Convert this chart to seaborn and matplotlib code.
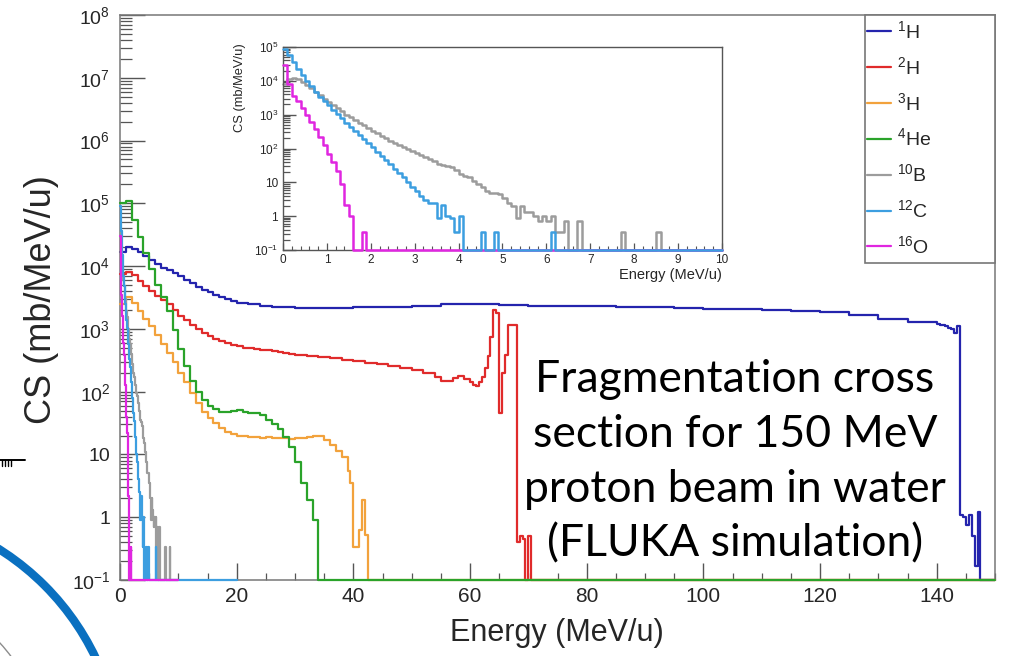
import numpy as np
import matplotlib
matplotlib.use('Agg')
import matplotlib.pyplot as plt
from matplotlib.lines import Line2D
from matplotlib.patches import Circle, Rectangle
from matplotlib.ticker import FixedLocator, FixedFormatter, MultipleLocator, LogLocator, NullFormatter
import seaborn as sns

# values: CS in mb/MeV/u, histogram bins in MeV/u (0 = empty bin)
species = [r'$^{1}$H', r'$^{2}$H', r'$^{3}$H', r'$^{4}$He', r'$^{10}$B', r'$^{12}$C', r'$^{16}$O']
colors = ['#2424ad', '#e02b2b', '#f2a23c', '#2aa32a', '#9c9c9c', '#3c9ee0', '#e026e0']

h1_edges = np.concatenate([np.arange(0, 20, 1.0), np.arange(20, 30, 2.0), np.arange(30, 140, 5.0),
                           np.arange(140, 148, 0.5), [150]])
h1_cs = [1.7e4, 2.0e4, 1.9e4, 1.7e4, 1.45e4, 1.25e4, 1.1e4, 9.5e3, 8.6e3, 7.7e3,
         6.9e3, 6.1e3, 5.4e3, 4.7e3, 4.2e3, 3.8e3, 3.5e3, 3.2e3, 3.0e3, 2.8e3,
         2.6e3, 2.45e3, 2.35e3, 2.25e3, 2.2e3,
         2.15e3, 2.15e3, 2.2e3, 2.25e3, 2.35e3, 2.45e3, 2.45e3, 2.4e3, 2.35e3, 2.3e3, 2.3e3,
         2.25e3, 2.2e3, 2.15e3, 2.1e3, 2.05e3, 2.0e3, 1.95e3, 1.85e3, 1.65e3, 1.45e3, 1.3e3,
         1.2e3, 1.15e3, 1.15e3, 1.1e3, 1.05e3, 1.0e3, 870, 1.1e3, 1.1, 1.0, 0.75, 1.1, 0.5, 0.17, 1.2, 0]

h2_edges = np.concatenate([np.arange(0, 30, 1.0), np.arange(30, 54, 2.0), np.arange(54, 60, 1.0),
                           np.arange(60, 71, 0.5), [150]])
h2_cs = [7.5e3, 8.2e3, 7.2e3, 5.8e3, 4.8e3, 4.0e3, 3.4e3, 2.9e3, 2.5e3, 2.0e3,
         1.6e3, 1.4e3, 1.15e3, 980, 860, 770, 700, 640, 590, 555,
         530, 505, 490, 475, 465, 455, 440, 425, 415, 405,
         390, 375, 360, 345, 325, 310, 290, 275, 260, 240, 225, 200,
         170, 150, 150, 165, 175, 160,
         140, 130, 125, 140, 170, 240, 370, 750, 2.0e3, 1.8e3, 46, 195, 390,
         1.15e3, 1.15e3, 1.15e3, 0.4, 0.5, 0.45, 0, 0.5, 0]

h3_edges = np.concatenate([np.arange(0, 39, 1.0), np.arange(39, 43, 0.5), [150]])
h3_cs = [2.5e3, 3.2e3, 2.6e3, 1.9e3, 1.45e3, 1.1e3, 800, 580, 420, 300,
         200, 140, 95, 65, 48, 38, 32, 26, 23, 21,
         20, 19.5, 19, 19, 18, 19, 18, 18.5, 18, 17.5,
         18, 18.5, 19, 20, 20, 17, 14, 11.5, 9,
         5.5, 3.5, 0.34, 0.34, 0.62, 1.9, 0.52, 0]

he4_edges = np.concatenate([np.arange(0, 35, 1.0), [150]])
he4_cs = [1.0e5, 1.1e5, 5.5e4, 2.9e4, 1.6e4, 9e3, 5e3, 3.2e3, 1.9e3, 950,
          480, 260, 150, 100, 75, 60, 52, 48, 47, 49,
          51, 48, 46, 45, 42, 36, 30, 25, 19, 13,
          7.5, 3.5, 1.9, 0.9, 0]

# heavy fragments, 0.1 MeV/u bins from 0 to 10 (the inset)
fine_edges = np.linspace(0, 10, 101)
b10_cs = [8e3, 1.1e4, 1.2e4, 1.15e4, 9.5e3, 7.5e3, 6e3, 4.8e3, 3.8e3, 3.0e3,
          2.4e3, 1.9e3, 1.55e3, 1.25e3, 1.0e3, 850, 700, 580, 480, 400,
          330, 280, 240, 200, 170, 150, 130, 110, 95, 85,
          75, 65, 57, 50, 42, 36, 33, 31, 28, 23,
          18, 15, 14, 11, 9, 7.5, 5.5, 5, 5, 4.5,
          3.5, 2.5, 2, 0.9, 2, 1.3, 1.3, 1.0, 0.7, 1.0,
          0.7, 1.0, 0.33, 0.33, 0.7, 0, 0, 0.7, 0, 0,
          0, 0, 0, 0, 0, 0, 0, 0.33, 0, 0,
          0, 0, 0, 0, 0, 0.33, 0, 0, 0, 0,
          0, 0, 0, 0, 0, 0, 0, 0, 0, 0]
c12_cs = [9e4, 6e4, 3.6e4, 2.3e4, 1.5e4, 1.0e4, 7e3, 4.8e3, 3.4e3, 2.5e3,
          1.9e3, 1.4e3, 1.05e3, 780, 570, 420, 330, 250, 190, 145,
          110, 80, 60, 45, 34, 25, 19, 14, 10, 7.5,
          5.5, 4, 3, 2.5, 2.5, 0.9, 2.2, 1.0, 0.9, 0.33,
          1.0, 0, 0, 0, 0, 0.33, 0, 0, 0.33, 0,
          0, 0, 0, 0, 0, 0, 0, 0, 0, 0,
          0, 0.33, 0, 0, 0, 0, 0, 0, 0, 0] + [0] * 30
o16_cs = [3e4, 8e3, 3.5e3, 2.5e3, 1.6e3, 1.0e3, 600, 380, 220, 130,
          70, 40, 22, 9, 2.2, 1.0, 0, 0, 0.33, 0] + [0] * 80

yticks = [1e-1, 1, 10, 1e2, 1e3, 1e4, 1e5, 1e6, 1e7, 1e8]
ylabels = [r'$10^{-1}$', '1', '10', r'$10^{2}$', r'$10^{3}$', r'$10^{4}$',
           r'$10^{5}$', r'$10^{6}$', r'$10^{7}$', r'$10^{8}$']

sns.set_style('white')
plt.rcParams['font.family'] = ['Liberation Sans', 'DejaVu Sans']
plt.rcParams['mathtext.fontset'] = 'custom'
plt.rcParams['mathtext.rm'] = 'Liberation Sans'
plt.rcParams['mathtext.it'] = 'Liberation Sans:italic'
plt.rcParams['mathtext.bf'] = 'Liberation Sans:bold'

W, H = 1012, 656
fig = plt.figure(figsize=(W / 100, H / 100), dpi=100, facecolor='white')


def px_axes(x0, y0, x1, y1, **kw):
    return fig.add_axes([x0 / W, 1 - y1 / H, (x1 - x0) / W, (y1 - y0) / H], **kw)


def hist(ax, edges, cs, color, lw, z, floor=0.1):
    y = np.clip(np.asarray(cs, dtype=float), floor, None)
    y = np.append(y, y[-1])
    sns.lineplot(x=edges, y=y, ax=ax, color=color, lw=lw, drawstyle='steps-post',
                 estimator=None, sort=False, legend=False, clip_on=False, zorder=z)


def style_log_axis(ax, ticks, labels, major_len, minor_len, size, pad):
    ax.set_yscale('log')
    ax.yaxis.set_major_locator(FixedLocator(ticks))
    ax.yaxis.set_major_formatter(FixedFormatter(labels))
    ax.yaxis.set_minor_locator(LogLocator(base=10, subs=np.arange(2, 10), numticks=100))
    ax.yaxis.set_minor_formatter(NullFormatter())
    ax.tick_params(axis='y', which='major', direction='in', length=major_len, width=1,
                   color='#555555', labelsize=size, pad=pad, left=True)
    ax.tick_params(axis='y', which='minor', direction='in', length=minor_len, width=0.9,
                   color='#555555', left=True)


# main plot
ax = px_axes(120, 15, 995, 580)
hist(ax, h1_edges, h1_cs, colors[0], 1.6, 2)
hist(ax, h2_edges, h2_cs, colors[1], 1.6, 3)
hist(ax, h3_edges, h3_cs, colors[2], 1.6, 4)
hist(ax, fine_edges, b10_cs, colors[4], 1.6, 5)
hist(ax, np.append(fine_edges, 20.0), c12_cs + [0], colors[5], 1.6, 6)
hist(ax, fine_edges, o16_cs, colors[6], 1.6, 7)
hist(ax, he4_edges, he4_cs, colors[3], 1.6, 8)

ax.set_xlim(0, 150)
ax.set_ylim(1e-1, 1e8)
style_log_axis(ax, yticks, ylabels, 18, 8.5, 14, 7)
ax.xaxis.set_major_locator(FixedLocator(np.arange(0, 141, 20)))
ax.xaxis.set_minor_locator(MultipleLocator(5))
ax.tick_params(axis='x', which='major', direction='in', length=12, width=1, color='#555555',
               labelsize=15, pad=5, bottom=True)
ax.tick_params(axis='x', which='minor', direction='in', length=5, width=0.9, color='#555555',
               bottom=True)
for s in ax.spines.values():
    s.set_color('#777777')
    s.set_linewidth(1.1)
ax.set_xlabel('Energy (MeV/u)', fontsize=22, va='center')
ax.xaxis.set_label_coords((557 - 120) / 875, (580 - 633) / 565)
ax.set_ylabel('CS (mb/MeV/u)', fontsize=26, va='center')
ax.yaxis.set_label_coords((42 - 120) / 875, (580 - 300) / 565)

# inset with the heavy fragments
axi = px_axes(283, 47, 722, 250, zorder=3)
hist(axi, fine_edges, b10_cs, colors[4], 1.8, 2)
hist(axi, fine_edges, o16_cs, colors[6], 1.8, 3)
hist(axi, fine_edges, c12_cs, colors[5], 1.8, 4)
axi.set_xlim(0, 10)
axi.set_ylim(1e-1, 1e5)
style_log_axis(axi, yticks[:7], ylabels[:7], 9, 5, 8.5, 3.5)
axi.xaxis.set_major_locator(MultipleLocator(1))
axi.xaxis.set_minor_locator(MultipleLocator(0.2))
axi.tick_params(axis='x', which='major', direction='in', length=5, width=0.9, color='#555555',
                labelsize=8.5, pad=3, bottom=True)
axi.tick_params(axis='x', which='minor', direction='in', length=3, width=0.8, color='#555555',
                bottom=True)
for s in axi.spines.values():
    s.set_color('#555555')
    s.set_linewidth(1)
axi.set_xlabel('Energy (MeV/u)', fontsize=10.5, ha='right', va='center')
axi.xaxis.set_label_coords(1.0, (250 - 275) / 203)
axi.set_ylabel('CS (mb/MeV/u)', fontsize=9.3, ha='right', va='center')
axi.yaxis.set_label_coords((240 - 283) / 439, (250 - 43) / 203)

# overlay in pixel coordinates: legend box, note and slide leftovers
ov = px_axes(0, 0, W, H, zorder=5)
ov.set_xlim(0, W)
ov.set_ylim(H, 0)
ov.axis('off')
ov.patch.set_alpha(0)

ov.add_patch(Rectangle((865, 15), 130, 248, fc='white', ec='#777777', lw=1.2, zorder=1))
handles = [Line2D([], [], color=c, lw=1.6) for c in colors]
ov.legend(handles, species, loc='upper left', bbox_to_anchor=(867, 20), bbox_transform=ov.transData,
          frameon=False, fontsize=14, handlelength=1.25, handletextpad=0.3, labelspacing=0.72,
          borderpad=0, borderaxespad=0)

ov.text(735, 462, 'Fragmentation cross\nsection for 150 MeV\nproton beam in water\n(FLUKA simulation)',
        ha='center', va='center', fontsize=32, family=['Lato', 'DejaVu Sans'], linespacing=1.42,
        color='black', zorder=3)

ov.add_patch(Circle((-140, 770), 261, fill=False, ec='#0a70c0', lw=6))
ov.add_patch(Circle((-140, 770), 189, fill=False, ec='#8c8c8c', lw=1))
ov.plot([0, 25], [460, 460], color='black', lw=1.4)
for tx in [2, 5, 8, 11]:
    ov.plot([tx, tx], [460, 466], color='black', lw=1)

fig.savefig('out.png', dpi=100, facecolor='white')
